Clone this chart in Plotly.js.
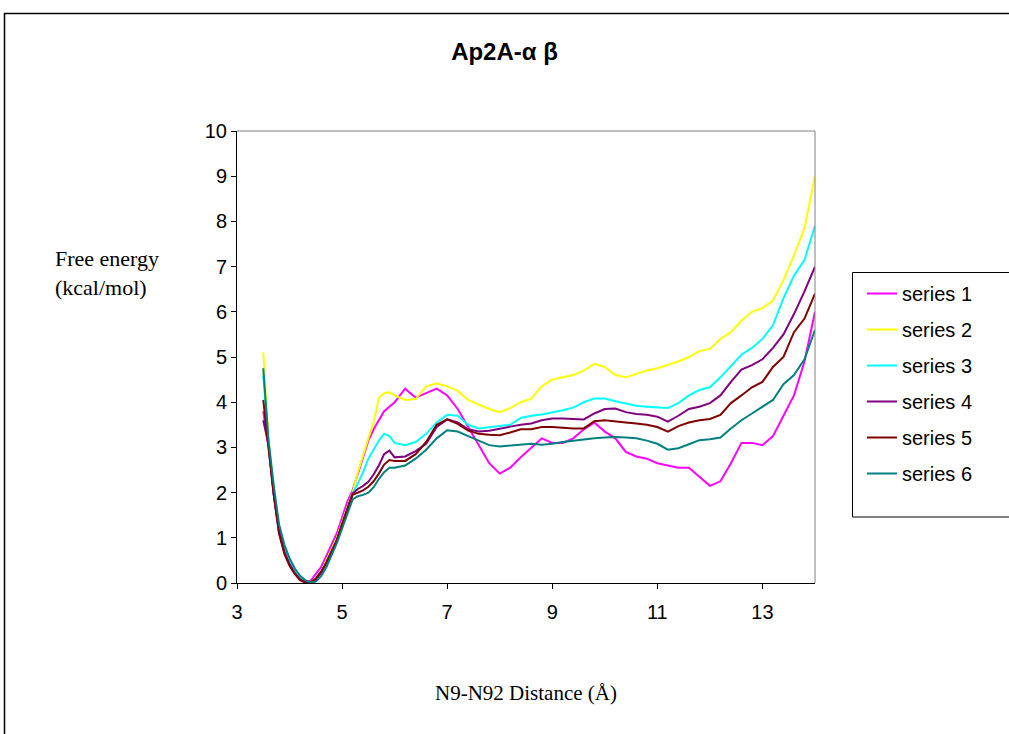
<!DOCTYPE html>
<html>
<head>
<meta charset="utf-8">
<script src="https://cdn.plot.ly/plotly-3.0.1.min.js"></script>
<style>html,body{margin:0;padding:0;background:#fff;}#chart{width:1009px;height:734px;}</style>
</head>
<body>
<div id="chart"></div>
<script>
// Shared distance grid (Å)
const distance = [3.5,3.6,3.7,3.8,3.9,4.0,4.1,4.2,4.3,4.4,4.5,4.6,4.7,4.8,4.9,5.0,5.1,5.2,5.3,5.4,5.5,5.6,5.7,5.8,5.9,6.0,
  6.2,6.4,6.6,6.8,7.0,7.2,7.4,7.6,7.8,8.0,8.2,8.4,8.6,8.8,9.0,9.2,9.4,9.6,9.8,10.0,10.2,10.4,10.6,10.8,11.0,11.2,11.4,11.6,11.8,12.0,12.2,12.4,12.6,12.8,13.0,13.2,13.4,13.6,13.8,14.0];

const series1 = [3.8,3.0,1.95,1.1,0.7,0.4,0.2,0.08,0.02,0.05,0.2,0.35,0.6,0.85,1.1,1.45,1.8,2.05,2.4,2.8,3.15,3.4,3.6,3.8,3.9,4.0,
  4.3,4.1,4.2,4.3,4.15,3.85,3.45,3.05,2.65,2.42,2.55,2.78,3.0,3.2,3.1,3.1,3.2,3.4,3.55,3.35,3.2,2.9,2.8,2.75,2.65,2.6,2.55,2.55,2.35,2.15,2.25,2.65,3.1,3.1,3.05,3.25,3.7,4.15,4.9,6.0];
const series2 = [5.1,3.15,2.05,1.2,0.75,0.45,0.25,0.1,0.03,0.02,0.1,0.25,0.5,0.75,1.0,1.35,1.7,2.0,2.45,2.85,3.2,3.55,4.1,4.2,4.22,4.15,
  4.05,4.07,4.35,4.42,4.35,4.25,4.05,3.95,3.85,3.78,3.87,4.0,4.08,4.35,4.5,4.55,4.6,4.7,4.85,4.78,4.6,4.55,4.63,4.7,4.75,4.82,4.9,5.0,5.13,5.18,5.4,5.55,5.8,6.0,6.08,6.25,6.7,7.25,7.85,9.0];
const series3 = [4.6,3.1,2.05,1.2,0.75,0.45,0.25,0.1,0.03,0.02,0.08,0.22,0.45,0.7,0.95,1.3,1.65,1.98,2.2,2.45,2.75,2.95,3.15,3.3,3.25,3.1,
  3.05,3.12,3.3,3.55,3.72,3.7,3.5,3.42,3.45,3.47,3.5,3.65,3.7,3.73,3.77,3.82,3.88,4.0,4.08,4.08,4.02,3.97,3.92,3.9,3.88,3.87,3.98,4.15,4.27,4.33,4.55,4.8,5.05,5.2,5.4,5.7,6.3,6.8,7.15,7.9];
const series4 = [3.6,3.05,1.95,1.15,0.7,0.42,0.22,0.08,0.02,0.02,0.08,0.22,0.45,0.7,0.95,1.3,1.65,1.98,2.08,2.15,2.24,2.4,2.6,2.85,2.93,2.78,
  2.8,2.92,3.08,3.45,3.62,3.55,3.4,3.35,3.37,3.42,3.46,3.5,3.53,3.6,3.64,3.64,3.63,3.62,3.75,3.85,3.86,3.78,3.74,3.72,3.68,3.57,3.7,3.85,3.9,3.98,4.15,4.45,4.72,4.82,4.95,5.2,5.5,5.95,6.45,7.0];
const series5 = [4.05,3.05,1.95,1.1,0.65,0.38,0.2,0.06,0.01,0.02,0.1,0.25,0.45,0.7,0.95,1.3,1.65,1.95,2.0,2.05,2.13,2.25,2.42,2.62,2.72,2.7,
  2.7,2.85,3.12,3.5,3.62,3.52,3.37,3.3,3.28,3.27,3.33,3.4,3.4,3.45,3.45,3.43,3.42,3.42,3.58,3.6,3.57,3.55,3.53,3.5,3.45,3.35,3.47,3.55,3.6,3.63,3.72,3.98,4.15,4.33,4.45,4.78,5.0,5.55,5.85,6.4];
const series6 = [4.75,3.15,2.15,1.3,0.85,0.55,0.32,0.16,0.06,0.01,0.03,0.15,0.35,0.6,0.88,1.2,1.55,1.85,1.92,1.95,2.0,2.12,2.3,2.45,2.55,2.55,
  2.6,2.75,2.95,3.2,3.38,3.35,3.25,3.15,3.05,3.02,3.04,3.07,3.08,3.06,3.08,3.12,3.15,3.18,3.2,3.22,3.23,3.22,3.2,3.15,3.08,2.95,2.98,3.07,3.16,3.18,3.22,3.42,3.6,3.75,3.9,4.05,4.4,4.6,4.95,5.6];

const seriesNames = ['series 1','series 2','series 3','series 4','series 5','series 6'];
const seriesColors = ['#FF00FF','#FFFF00','#00FFFF','#800080','#800000','#008080'];
const allSeries = [series1,series2,series3,series4,series5,series6];

const xTicks = [3,5,7,9,11,13];
const yTicks = [0,1,2,3,4,5,6,7,8,9,10];

const traces = allSeries.map((ys,i)=>({
  x: distance, y: ys, type:'scatter', mode:'lines', name: seriesNames[i],
  legendgroup: 'g'+i,
  line:{color: seriesColors[i], width:2}
}));

const sans = 'Arial, "Liberation Sans", sans-serif';
const serif = '"Times New Roman", "Liberation Serif", serif';
const W = 578, H = 452, L = 237, B = 583;
const px = v => (v - L) / W;
const py = v => (B - v) / H;

const layout = {
  width:1009, height:734,
  margin:{l:237, r:194, t:131, b:151, autoexpand:false},
  paper_bgcolor:'#fff', plot_bgcolor:'#fff',
  title:{text:'<b>Ap2A-α β</b>', font:{family:sans, size:24, color:'#000'}, x:0.5, xanchor:'center', y:1-52/734, yanchor:'middle'},
  xaxis:{range:[3,14], tickvals:xTicks, ticks:'outside', ticklen:5, tickcolor:'#000', showline:true, linecolor:'#000', linewidth:1,
         showgrid:false, zeroline:false, tickfont:{family:sans, size:20, color:'#000'}, ticklabelstandoff:6, fixedrange:true},
  yaxis:{range:[0,10], tickvals:yTicks, ticks:'outside', ticklen:5, tickcolor:'#000', showline:true, linecolor:'#000', linewidth:1,
         showgrid:false, zeroline:false, tickfont:{family:sans, size:20, color:'#000'}, fixedrange:true},
  showlegend:true,
  legend:{x:px(862), xanchor:'left', y:py(274), yanchor:'top', borderwidth:0, bgcolor:'rgba(0,0,0,0)',
          font:{family:sans, size:20, color:'#000'}, traceorder:'grouped', tracegroupgap:7},
  shapes:[
    {type:'line', xref:'paper', yref:'paper', x0:0, x1:1, y0:1, y1:1, line:{color:'#808080', width:1}},
    {type:'line', xref:'paper', yref:'paper', x0:1, x1:1, y0:0, y1:1, line:{color:'#808080', width:1}},
    {type:'rect', xref:'paper', yref:'paper', x0:px(4.5), x1:2, y0:-1, y1:py(13.5), line:{color:'#000', width:1.5}, layer:'below'},
    {type:'rect', xref:'paper', yref:'paper', x0:px(852.5), x1:px(1030), y0:py(517), y1:py(272.5), line:{color:'#000', width:1}, layer:'below'}
  ],
  annotations:[
    {text:'Free energy<br>(kcal/mol)', xref:'paper', yref:'paper', x:px(53), xanchor:'left', y:py(272.5), yanchor:'middle',
     showarrow:false, align:'left', font:{family:serif, size:22, color:'#000'}},
    {text:'N9-N92 Distance (Å)', xref:'paper', yref:'paper', x:0.5, xanchor:'center', y:py(693), yanchor:'middle',
     showarrow:false, font:{family:serif, size:21, color:'#000'}}
  ]
};

Plotly.newPlot('chart', traces, layout, {displayModeBar:false, staticPlot:true});
</script>
</body>
</html>
